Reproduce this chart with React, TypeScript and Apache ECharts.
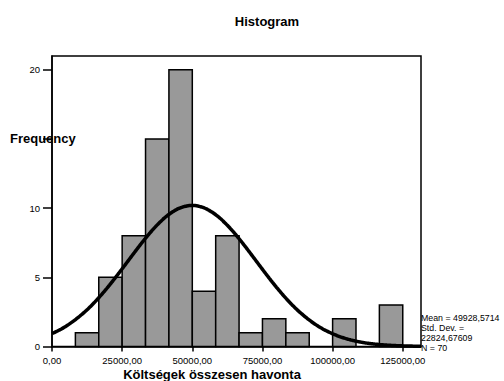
import React, { useEffect, useRef } from "react";
import * as echarts from "echarts";

// Histogram bins (lower edge) and frequencies
const binWidth = 25000 / 3;
const binStarts = [8333.33, 16666.67, 25000, 33333.33, 41666.67, 50000, 58333.33, 66666.67, 75000, 83333.33, 91666.67, 100000, 108333.33, 116666.67];
const frequencies = [1, 5, 8, 15, 20, 4, 8, 1, 2, 1, 0, 2, 0, 3];

// Summary statistics shown in the chart
const mean = 49928.5714;
const stdDev = 22824.67609;
const n = 70;

const xTicks = [0, 25000, 50000, 75000, 100000, 125000];
const yTicks = [0, 5, 10, 15, 20];
const yLabels = [0, 5, 10, 20];

const xMax = 131500;
const yMax = 21;

const fmt = (v: number) => v.toFixed(2).replace(".", ",");

// Fitted normal curve from the shown mean / std. dev. / N
const curveXs: number[] = [];
for (let x = 0; x <= xMax; x += 500) curveXs.push(x);
const curve = curveXs.map((x) => [
  x,
  (n * binWidth) / (stdDev * Math.sqrt(2 * Math.PI)) * Math.exp(-0.5 * ((x - mean) / stdDev) ** 2),
]);

export default function App() {
  const ref = useRef<HTMLDivElement>(null);
  useEffect(() => {
    if (!ref.current) return;
    const chart = echarts.init(ref.current, undefined, { renderer: "svg" });
    const font = "Liberation Sans, Arial, sans-serif";
    chart.setOption({
      animation: false,
      backgroundColor: "#fff",
      grid: {
        left: 52,
        right: 83,
        top: 56,
        bottom: 34.5,
        show: true,
        borderColor: "#000",
        borderWidth: 1.5,
        backgroundColor: "transparent",
      },
      xAxis: {
        type: "value",
        min: 0,
        max: xMax,
        interval: 25000,
        splitLine: { show: false },
        axisLine: { show: true, lineStyle: { color: "#000", width: 1.5 } },
        axisTick: { show: true, length: 5, lineStyle: { color: "#000", width: 1.5 }, customValues: xTicks },
        axisLabel: {
          customValues: xTicks,
          formatter: (v: number) => fmt(v),
          color: "#000",
          fontSize: 9.5,
          fontFamily: font,
          margin: 9,
        },
      },
      yAxis: {
        type: "value",
        min: 0,
        max: yMax,
        interval: 5,
        splitLine: { show: false },
        axisLine: { show: true, lineStyle: { color: "#000", width: 1.5 } },
        axisTick: { show: true, length: 9, lineStyle: { color: "#000", width: 1.5 }, customValues: yTicks },
        axisLabel: {
          customValues: yLabels,
          color: "#000",
          fontSize: 9.5,
          fontFamily: font,
          margin: 12,
        },
      },
      series: [
        {
          type: "custom",
          data: binStarts.map((s, i) => [s, s + binWidth, frequencies[i]]),
          renderItem: (params: any, api: any) => {
            const h = api.value(2);
            if (!h) return null;
            const p0 = api.coord([api.value(0), 0]);
            const p1 = api.coord([api.value(1), h]);
            return {
              type: "rect",
              shape: { x: p0[0], y: p1[1], width: p1[0] - p0[0], height: p0[1] - p1[1] },
              style: { fill: "#999999", stroke: "#000", lineWidth: 1.5 },
            };
          },
          z: 2,
        },
        {
          type: "line",
          data: curve,
          showSymbol: false,
          symbol: "none",
          smooth: true,
          clip: true,
          lineStyle: { color: "#000", width: 3.5 },
          z: 3,
        },
      ],
      graphic: [
        {
          type: "text",
          x: 267,
          y: 21,
          style: { text: "Histogram", font: `bold 13px ${font}`, fill: "#000", align: "center", verticalAlign: "middle" },
        },
        {
          type: "text",
          x: 10,
          y: 138,
          style: { text: "Frequency", font: `bold 13px ${font}`, fill: "#000", align: "left", verticalAlign: "middle" },
        },
        {
          type: "text",
          x: 212,
          y: 374,
          style: { text: "Költségek összesen havonta", font: `bold 13px ${font}`, fill: "#000", align: "center", verticalAlign: "middle" },
        },
        {
          type: "text",
          x: 421,
          y: 313,
          style: {
            text: `Mean = ${mean.toFixed(4).replace(".", ",")}\nStd. Dev. =\n${stdDev.toFixed(5).replace(".", ",")}\nN = ${n}`,
            font: `8.8px ${font}`,
            lineHeight: 10,
            fill: "#000",
            align: "left",
            verticalAlign: "top",
          },
        },
      ],
    });
    return () => chart.dispose();
  }, []);
  return <div ref={ref} style={{ width: 504, height: 381, position: "absolute", left: 0, top: 0 }} />;
}
